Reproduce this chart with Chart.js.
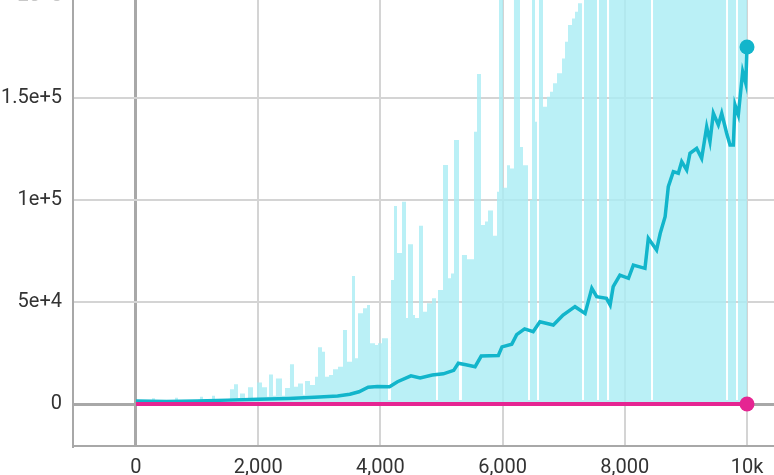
<!DOCTYPE html>
<html>
<head>
<meta charset="utf-8">
<script src="https://cdn.jsdelivr.net/npm/chart.js@4/dist/chart.umd.min.js"></script>
<style>
  html, body { margin: 0; padding: 0; background: #fff; overflow: hidden; }
  #wrap { position: relative; width: 774px; height: 475px; overflow: hidden; }
  #inner { position: absolute; left: 0; top: -60px; width: 782px; height: 536px; }
</style>
</head>
<body>
<div id="wrap"><div id="inner"><canvas id="c" width="782" height="536"></canvas></div></div>
<script>
// ---- data ----
const smoothSteps = [0,500,1000,1500,2000,2500,3000,3300,3500,3650,3800,3950,4150,4280,4500,4650,4850,5030,5200,5275,5400,5550,5650,5930,5990,6150,6230,6360,6500,6610,6830,6990,7185,7350,7460,7540,7700,7760,7810,7920,8060,8140,8330,8385,8520,8580,8660,8712,8794,8876,8931,9013,9067,9176,9258,9340,9394,9449,9531,9586,9667,9722,9776,9804,9858,9929,9980,10000];
const smoothVals = [1500,1200,1500,1900,2300,2700,3400,3900,4800,6000,8200,8600,8500,10900,13800,12800,14200,14800,16500,20000,19200,18300,23500,23800,28000,29300,34000,36800,35400,40300,38700,43600,47700,44400,56700,52600,51800,48500,57500,63200,61600,68100,66500,81200,75500,83700,91800,106500,113900,113100,118800,114700,122900,125300,120400,135900,128600,142500,136800,142500,132700,127000,127000,146600,141700,162900,157200,175000];

const rawSteps = [0,262,311,638,687,1047,1097,1244,1293,1538,1604,1669,1702,1784,1833,1915,1980,2062,2144,2177,2242,2290,2390,2439,2520,2586,2651,2733,2766,2848,2930,2979,3044,3093,3159,3224,3306,3388,3453,3535,3584,3633,3715,3781,3830,3912,3961,4026,4124,4173,4223,4272,4354,4419,4452,4534,4566,4632,4697,4763,4845,4910,4943,5025,5106,5155,5205,5286,5335,5417,5532,5581,5646,5712,5761,5843,5908,5941,6007,6072,6121,6186,6285,6334,6416,6448,6481,6530,6563,6596,6661,6727,6776,6825,6890,6972,7021,7070,7136,7185,7234,7299,7332,7545,7578,7709,7742,8429,8462,9657,9689,9820,9853,10000];
const rawVals = [2000,2800,1800,3100,2000,3600,2200,4000,2400,7200,9650,3000,5200,3000,8200,3000,10600,8200,3500,14500,4000,12500,4000,7800,19450,8500,10100,4500,11300,9300,13400,27800,25600,13400,14200,17000,18300,36300,20700,62750,22400,44500,46900,48500,29750,28900,29750,32200,2000,60800,97100,74000,99200,42200,78300,43600,42200,87400,45200,49400,51800,2000,55900,117200,61600,64000,129400,2000,73000,70900,133500,161800,87700,89400,94800,82500,104000,250000,106000,117000,115500,250000,126000,117000,2000,100000,250000,138400,2000,250000,145700,150600,153100,157200,162100,169400,177600,185800,189000,192300,196400,2000,250000,2000,250000,2000,250000,2000,250000,2000,250000,2000,250000,250000];

const baseSteps = [0, 10000];
const baseVals = [0, 0];

const xTickSteps = [0, 2000, 4000, 6000, 8000, 10000];
const yTickVals = [0, 50000, 100000, 150000, 200000];

function pts(xs, ys) { return xs.map((x, i) => ({ x: x, y: ys[i] })); }
function lastDot(r) { return ctx => ctx.dataIndex === ctx.dataset.data.length - 1 ? r : 0; }

function draw() {
  Chart.defaults.font.family = 'Roboto';
  Chart.defaults.font.size = 20;
  new Chart(document.getElementById('c'), {
    type: 'line',
    data: {
      datasets: [
        {
          data: pts(baseSteps, baseVals),
          borderColor: '#e52592', backgroundColor: '#e52592',
          borderWidth: 4, tension: 0,
          pointRadius: lastDot(7.5), pointBorderWidth: 0, pointBackgroundColor: '#e52592'
        },
        {
          data: pts(smoothSteps, smoothVals),
          borderColor: '#12b5cb', backgroundColor: '#12b5cb',
          borderWidth: 3.5, tension: 0,
          pointRadius: lastDot(7.5), pointBorderWidth: 0, pointBackgroundColor: '#12b5cb'
        },
        {
          data: pts(rawSteps, rawVals),
          borderColor: 'transparent', backgroundColor: 'rgba(171,237,244,0.82)',
          borderWidth: 1, stepped: true, fill: 'origin',
          pointRadius: 0
        }
      ]
    },
    options: {
      responsive: false,
      animation: false,
      layout: { padding: { top: 35.6, left: 0, right: 0, bottom: 0 } },
      plugins: { legend: { display: false }, tooltip: { enabled: false } },
      scales: {
        x: {
          type: 'linear', min: -1031, max: 10450,
          afterBuildTicks: s => { s.ticks = xTickSteps.map(v => ({ value: v })); },
          afterFit: s => { s.height = 30; s.paddingLeft = 0; s.paddingRight = 0; },
          ticks: {
            padding: 10, color: '#333', maxRotation: 0,
            callback: v => v === 10000 ? '10k' : Number(v).toLocaleString('en-US')
          },
          grid: {
            drawTicks: false,
            color: c => (c.tick && c.tick.value === 0) ? '#a8a8a8' : '#d4d4d4',
            lineWidth: c => (c.tick && c.tick.value === 0) ? 3 : 2
          },
          border: { color: '#a8a8a8', width: 2 }
        },
        y: {
          type: 'linear', min: -20588, max: 210000,
          afterBuildTicks: s => { s.ticks = yTickVals.map(v => ({ value: v })); },
          afterFit: s => { s.width = 73; },
          ticks: {
            padding: 11,
            color: c => (c.tick && c.tick.value === 200000) ? '#c8c8c8' : '#333',
            callback: v => v === 0 ? '0' : Number(v).toExponential()
          },
          grid: {
            drawTicks: false,
            color: c => (c.tick && c.tick.value === 0) ? '#a8a8a8' : '#d4d4d4',
            lineWidth: c => (c.tick && c.tick.value === 0) ? 3 : 2
          },
          border: { color: '#a8a8a8', width: 2 }
        }
      }
    }
  });
}
if (document.fonts && document.fonts.load) {
  document.fonts.load('20px Roboto').then(draw, draw);
} else { draw(); }
</script>
</body>
</html>
